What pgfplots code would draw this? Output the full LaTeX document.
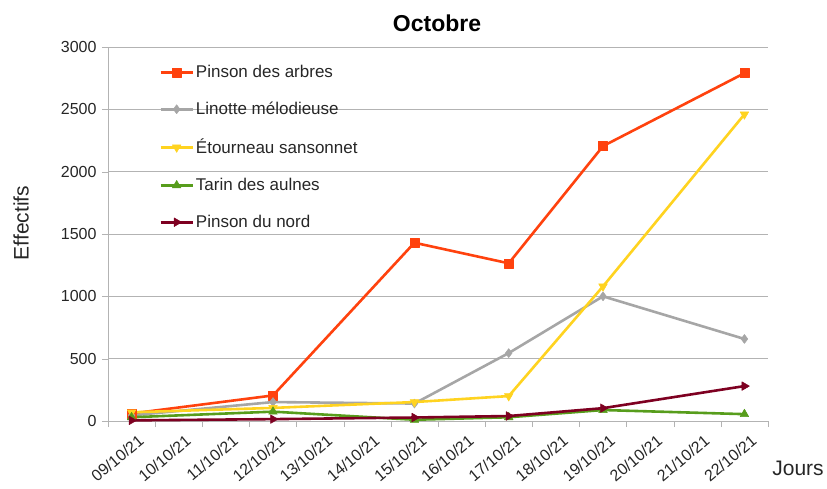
\documentclass[border=0pt]{standalone}
\usepackage{pgfplots}
\pgfplotsset{compat=1.18}
\usepackage{fontspec}
\setmainfont{Liberation Sans}
\definecolor{cOrange}{HTML}{FF420E}
\definecolor{cGrey}{HTML}{A6A6A6}
\definecolor{cYellow}{HTML}{FFD320}
\definecolor{cGreen}{HTML}{579D1C}
\definecolor{cDark}{HTML}{7E0021}
\definecolor{gridc}{HTML}{B3B3B3}
\begin{document}
\begin{tikzpicture}[x=1pt,y=1pt]
\path[use as bounding box] (0,0) rectangle (827,488);
\begin{axis}[
  at={(108pt,67pt)}, anchor=south west,
  scale only axis, width=660pt, height=374pt,
  xmin=-0.5, xmax=13.5, ymin=0, ymax=3000,
  xtick={0,...,13},
  xticklabels={09/10/21,10/10/21,11/10/21,12/10/21,13/10/21,14/10/21,15/10/21,16/10/21,17/10/21,18/10/21,19/10/21,20/10/21,21/10/21,22/10/21},
  major x tick style={draw=none},
  minor xtick={-0.5,0.5,...,13.5},
  minor x tick style={gridc, thin},
  ytick={0,500,...,3000},
  ymajorgrids, grid style={gridc, thin},
  axis x line*=bottom, axis y line*=left,
  axis line style={gridc, thin},
  tick align=outside, major tick length=6pt, minor tick length=6pt,
  y tick style={gridc},
  /pgf/number format/assume math mode=true,
  /pgf/number format/1000 sep={},
  tick label style={font=\fontsize{16}{18}\selectfont, text=black!85},
  xticklabel style={xshift=6pt, yshift=-5pt, rotate=40, anchor=north east, inner sep=1pt},
  yticklabel style={xshift=-2pt},
  legend style={draw=none, fill=none, at={(0.073,0.962)}, anchor=north west,
    font=\fontsize{17}{20}\selectfont, row sep=19pt, text=black!85},
  legend cell align=left,
  legend image code/.code={\draw[mark repeat=2,mark phase=2] plot coordinates {(0pt,0pt) (16pt,0pt) (32pt,0pt)};},
  every axis plot/.append style={line width=2.6pt, line join=round},
]
\addplot[cOrange, mark=square*, mark size=4.5pt, mark options={line width=0.5pt}] coordinates {(0,60) (3,205) (6,1430) (8,1265) (10,2205) (13,2790)};
\addlegendentry{Pinson des arbres}
\addplot[cGrey, mark=diamond*, mark size=4.5pt, mark options={line width=0.5pt}] coordinates {(0,45) (3,152) (6,140) (8,545) (10,1000) (13,658)};
\addlegendentry{Linotte mélodieuse}
\addplot[cYellow, mark=triangle*, mark size=5pt, mark options={rotate=180, line width=0.5pt}] coordinates {(0,70) (3,105) (6,152) (8,200) (10,1080) (13,2460)};
\addlegendentry{Étourneau sansonnet}
\addplot[cGreen, mark=triangle*, mark size=5pt, mark options={line width=0.5pt}] coordinates {(0,30) (3,75) (6,10) (8,30) (10,88) (13,55)};
\addlegendentry{Tarin des aulnes}
\addplot[cDark, mark=triangle*, mark size=5pt, mark options={rotate=-90, line width=0.5pt}] coordinates {(0,5) (3,15) (6,28) (8,40) (10,103) (13,280)};
\addlegendentry{Pinson du nord}
\end{axis}
\node[font=\bfseries\fontsize{23}{26}\selectfont] at (437,465) {Octobre};
\node[rotate=90, font=\fontsize{21}{24}\selectfont, text=black!85] at (21,265) {Effectifs};
\node[font=\fontsize{21}{24}\selectfont, text=black!85] at (798,20) {Jours};
\end{tikzpicture}
\end{document}
